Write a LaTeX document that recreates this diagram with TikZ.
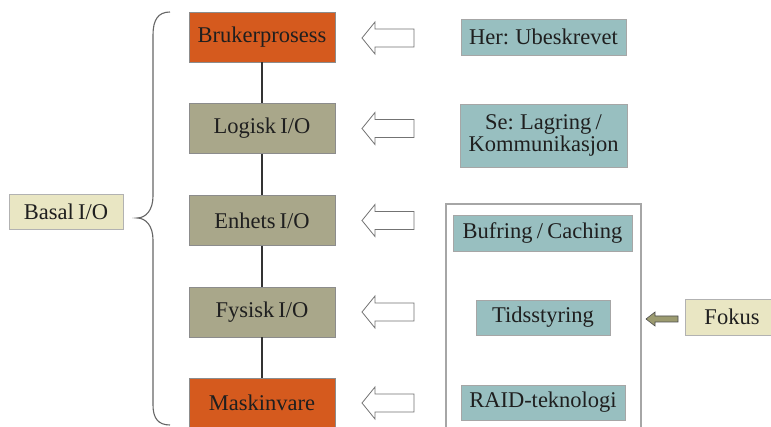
\documentclass[tikz,border=0pt]{standalone}
\usepackage{fontspec}
\setmainfont[WordSpace=0.75]{Liberation Serif}
\begin{document}
\begin{tikzpicture}[x=1pt,y=-1pt,
  every node/.style={font=\fontsize{22.5}{24}\selectfont, text=black!88, inner sep=0pt},
  layerbox/.style={draw=black!45, line width=0.6pt, minimum width=146pt, minimum height=50pt},
  orangebox/.style={layerbox, fill=orgcol},
  olivebox/.style={layerbox, fill=olvcol},
  tealbox/.style={draw=black!35, line width=0.6pt, fill=tealcol, align=center},
  beigebox/.style={draw=black!30, line width=0.6pt, fill=beigecol},
  hollow/.style={draw=black!55, line width=0.8pt, fill=white, line join=miter},
  link/.style={draw=black!80, line width=1.8pt}
]
\definecolor{orgcol}{HTML}{D55A1E}
\definecolor{olvcol}{HTML}{A9A78A}
\definecolor{tealcol}{HTML}{98BFC0}
\definecolor{beigecol}{HTML}{E9E6C3}
\definecolor{fokarrow}{HTML}{9C9B70}
\clip (0,0) rectangle (771,427);
\fill[white] (0,0) rectangle (771,427);

% left stack
\node[orangebox] (bp) at (262,37) {Brukerprosess};
\node[olivebox] (lio) at (262,128.5) {Logisk I/O};
\node[olivebox] (eio) at (262,220.5) {Enhets I/O};
\node[olivebox] (fio) at (262,312) {Fysisk I/O};
\node[orangebox] (mv) at (262,403) {Maskinvare};
\draw[link] (bp) -- (lio);
\draw[link] (lio) -- (eio);
\draw[link] (eio) -- (fio);
\draw[link] (fio) -- (mv);

% brace and Basal I/O
\draw[black!60, line width=1.1pt]
  (170,12) .. controls (158,12) and (153,20) .. (153,35) -- (153,196)
  .. controls (153,210) and (146,218) .. (137,218)
  .. controls (146,218) and (153,226) .. (153,240) -- (153,405)
  .. controls (153,418) and (158,425) .. (170,425);
\node[beigebox, minimum width=114pt, minimum height=35pt] (basal) at (66,211.5) {Basal I/O};

% hollow arrows
\foreach \yy in {38,128.5,220.5,312,403}{
  \draw[hollow] (362,\yy) -- (375,\yy-16) -- (375,\yy-9) -- (414,\yy-9)
     -- (414,\yy+9) -- (375,\yy+9) -- (375,\yy+16) -- cycle;
}

% right side
\node[tealbox, minimum width=165pt, minimum height=36pt] (her) at (543.5,37) {Her: Ubeskrevet};
\node[tealbox, minimum width=167pt, minimum height=63pt] (se) at (543.5,135.5) {Se: Lagring /\\[-2pt]Kommunikasjon};
\draw[black!35, line width=1.8pt] (446,440) -- (446,204) -- (641,204) -- (641,440);
\node[tealbox, minimum width=179pt, minimum height=36pt] (buf) at (542.5,233) {Bufring / Caching};
\node[tealbox, minimum width=134pt, minimum height=35pt] (tid) at (543,317.5) {Tidsstyring};
\node[tealbox, minimum width=164pt, minimum height=35pt] (raid) at (543,402.5) {RAID-teknologi};
\node[beigebox, minimum width=94pt, minimum height=36pt] (fok) at (732,317) {Fokus};
\draw[draw=black!70, fill=fokarrow, line width=0.6pt]
  (646,319) -- (655,312) -- (655,316) -- (678,316) -- (678,322) -- (655,322) -- (655,326) -- cycle;
\end{tikzpicture}
\end{document}
